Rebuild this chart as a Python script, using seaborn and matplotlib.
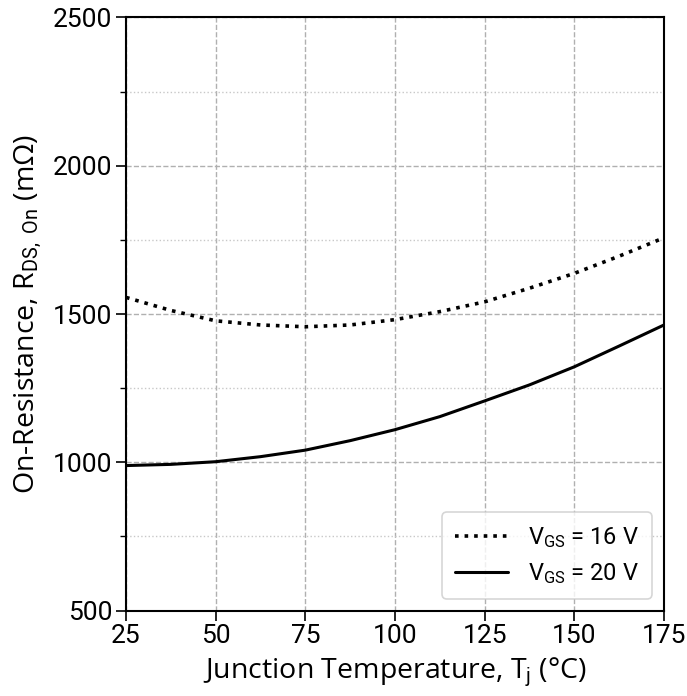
import numpy as np
import pandas as pd
import matplotlib
matplotlib.use("Agg")
import matplotlib.pyplot as plt
from matplotlib.ticker import MultipleLocator
import seaborn as sns

# values
temp = [25, 37.5, 50, 62.5, 75, 87.5, 100, 112.5, 125, 137.5, 150, 162.5, 175]
r_vgs16 = [1556, 1512, 1477, 1463, 1457, 1463, 1481, 1508, 1541, 1587, 1637, 1695, 1757]
r_vgs20 = [989, 993, 1002, 1019, 1041, 1073, 1110, 1154, 1207, 1261, 1322, 1392, 1463]
series_labels = ["V$_{\\mathrm{GS}}$ = 16 V", "V$_{\\mathrm{GS}}$ = 20 V"]
x_ticks = [25, 50, 75, 100, 125, 150, 175]
y_ticks = [500, 1000, 1500, 2000, 2500]

sns.set_style("white")
narrow = ["Roboto", "DejaVu Sans"]
plt.rcParams["font.family"] = narrow
plt.rcParams["mathtext.fontset"] = "custom"
plt.rcParams["mathtext.rm"] = narrow[0]
plt.rcParams["mathtext.it"] = narrow[0]
plt.rcParams["text.color"] = "black"
plt.rcParams["axes.labelcolor"] = "black"
plt.rcParams["xtick.color"] = "black"
plt.rcParams["ytick.color"] = "black"

df = pd.DataFrame({"T": temp, "16": r_vgs16, "20": r_vgs20})

fig = plt.figure(figsize=(6.87, 6.96), dpi=100)
ax = fig.add_axes([0.1834, 0.1227, 0.7831, 0.8523])

sns.lineplot(data=df, x="T", y="16", ax=ax, color="black", linestyle=":", linewidth=2.6, label=series_labels[0])
sns.lineplot(data=df, x="T", y="20", ax=ax, color="black", linestyle="-", linewidth=2.2, label=series_labels[1])

ax.set_xlim(25, 175)
ax.set_ylim(500, 2500)
ax.set_xticks(x_ticks)
ax.set_yticks(y_ticks)
ax.yaxis.set_minor_locator(MultipleLocator(250))
ax.grid(which="major", linestyle="--", color="#b0b0b0", linewidth=1)
ax.grid(which="minor", axis="y", linestyle=":", color="#c8c8c8", linewidth=1)
ax.tick_params(which="major", direction="out", length=7, width=1.2, labelsize=19, left=True, bottom=True,
               pad=3, colors="black")
ax.tick_params(which="minor", direction="out", length=4, width=1, left=True, colors="black")
for s in ax.spines.values():
    s.set_color("black")
    s.set_linewidth(1.5)

label_font = ["Open Sans", "DejaVu Sans"]
ax.set_xlabel("Junction Temperature, T$_{\\mathrm{j}}$ (°C)", fontsize=20.5, family=label_font, labelpad=5)
ax.set_ylabel("On-Resistance, R$_{\\mathrm{DS,\\ On}}$ (mΩ)", fontsize=20.5, family=label_font, labelpad=6)

leg = ax.legend(loc="lower right", fontsize=17, frameon=True, handlelength=2.25, borderpad=0.55,
                labelspacing=0.45, handletextpad=0.85, borderaxespad=0.5)
leg.get_frame().set_edgecolor("#cccccc")
leg.get_frame().set_linewidth(1.2)

fig.savefig("out.png", dpi=100)
